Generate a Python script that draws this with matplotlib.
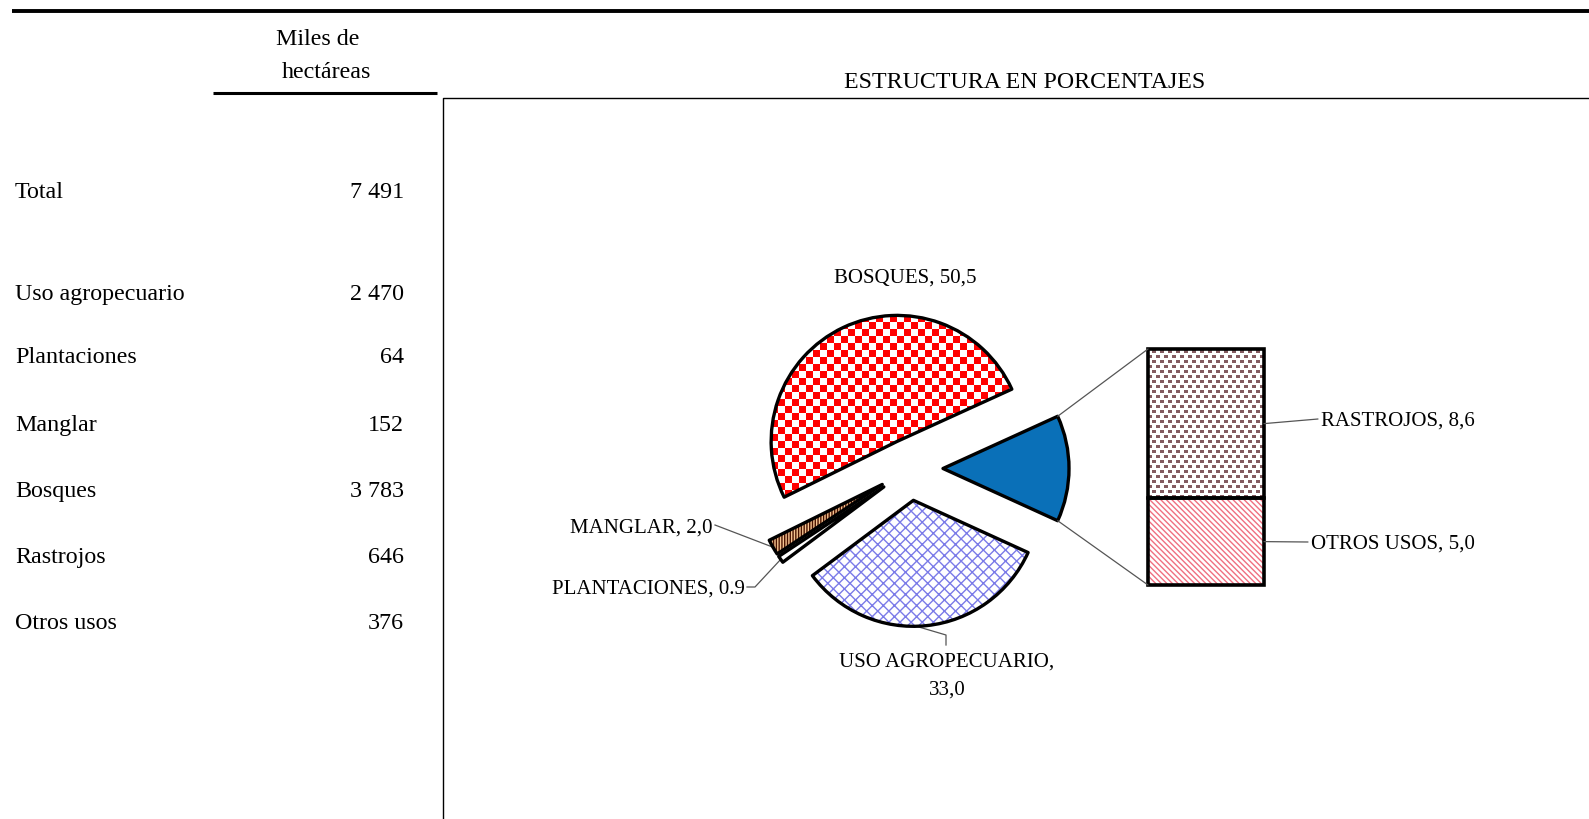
import numpy as np
import matplotlib.pyplot as plt
from matplotlib.patches import Wedge, Rectangle, ConnectionPatch

plt.rcParams['font.family'] = ['Liberation Serif', 'DejaVu Serif']
plt.rcParams['hatch.linewidth'] = 1.0

W, H = 1589, 819

# tabla de la izquierda (miles de hectareas)
categorias = ["Total", "Uso agropecuario", "Plantaciones", "Manglar",
              "Bosques", "Rastrojos", "Otros usos"]
miles_ha = [7491, 2470, 64, 152, 3783, 646, 376]

# pie principal, en orden antihorario desde la porcion "otros"
pie_nombres = ["OTROS", "BOSQUES", "MANGLAR", "PLANTACIONES", "USO AGROPECUARIO"]
pie_pct = [50.5, 2.0, 0.9, 33.0]
pie_etiquetas = ["BOSQUES, 50,5", "MANGLAR, 2,0", "PLANTACIONES, 0.9",
                 "USO AGROPECUARIO,\n33,0"]

# barra de desglose de "otros"
barra_nombres = ["OTROS USOS", "RASTROJOS"]
barra_pct = [5.0, 8.6]
barra_etiquetas = ["OTROS USOS, 5,0", "RASTROJOS, 8,6"]

pie_valores = [sum(barra_pct)] + pie_pct


def Y(y):
    # coordenadas de imagen (y hacia abajo) -> ejes
    return H - y


fig = plt.figure(figsize=(W / 100, H / 100), dpi=100)
ax = fig.add_axes([0, 0, 1, 1])

# --- encabezado y tabla ---
ax.plot([12, W], [Y(11), Y(11)], color='black', lw=2.8, solid_capstyle='butt')
ax.plot([213, 437], [Y(93), Y(93)], color='black', lw=2.2, solid_capstyle='butt')
ax.plot([443, 443, W], [0, Y(98), Y(98)], color='black', lw=1.0)

ax.text(318, Y(45), "Miles de", ha='center', va='baseline', fontsize=17.3)
ax.text(326, Y(78), "hectáreas", ha='center', va='baseline', fontsize=17.3)
ax.text(1025, Y(88), "ESTRUCTURA EN PORCENTAJES", ha='center', va='baseline', fontsize=17.2)

fila_base = [198, 300, 363, 431, 497, 563, 629]
for nombre, valor, yb in zip(categorias, miles_ha, fila_base):
    ax.text(15, Y(yb), nombre, ha='left', va='baseline', fontsize=17.3)
    ax.text(404, Y(yb), f"{valor:,}".replace(",", " "), ha='right', va='baseline', fontsize=17.3)

# --- pie ---
centro = (910, Y(468.5))
radio = 126
explotar = [33, 30, 32, 32, 32]
inicio = -360 * pie_valores[0] / 100 / 2
colores = ['#0a70b8', 'white', '#f5c592', 'white', 'white']
wedges, _ = ax.pie(pie_valores, explode=explotar, radius=radio, center=centro,
                   startangle=inicio, colors=colores,
                   wedgeprops=dict(linewidth=0, zorder=1))
w_otros, w_bosq, w_mang, w_plant, w_uso = wedges


def copia(w, **kw):
    return Wedge(w.center, w.r, w.theta1, w.theta2, **kw)


# cuadros rojos para bosques
celda = 7
x0, y0 = w_bosq.center[0] - radio, w_bosq.center[1] - radio
n = int(2 * radio / celda) + 2
ii, jj = np.mgrid[0:n, 0:n]
tablero = np.ones((n, n, 3))
tablero[(ii + jj) % 2 == 0] = [1.0, 0.0, 0.0]
img = ax.imshow(tablero, extent=(x0, x0 + celda * n, y0, y0 + celda * n), origin='lower',
                interpolation='nearest', aspect='auto', zorder=1.5)
img.set_clip_path(w_bosq)

ax.add_patch(copia(w_uso, fill=False, hatch='xxx', edgecolor='#7b7be8', lw=0, zorder=2))
ax.add_patch(copia(w_mang, fill=False, hatch='||||||', edgecolor='#4a1200', lw=0, zorder=2))
for w in wedges:
    ax.add_patch(copia(w, fill=False, edgecolor='black', lw=2.4, joinstyle='round', zorder=3))


def punto(w, ang=None, extra=0):
    if ang is None:
        ang = 0.5 * (w.theta1 + w.theta2)
    a = np.deg2rad(ang)
    return (w.center[0] + (w.r + extra) * np.cos(a), w.center[1] + (w.r + extra) * np.sin(a))


gris = '#555555'
# bosques
ax.text(834, Y(283), pie_etiquetas[0], ha='left', va='baseline', fontsize=15)
# manglar
ax.text(713, Y(533), pie_etiquetas[1], ha='right', va='baseline', fontsize=15)
px, py = punto(w_mang)
ax.plot([715, px], [Y(525), py], color=gris, lw=0.9)
# plantaciones
ax.text(745, Y(594), pie_etiquetas[2], ha='right', va='baseline', fontsize=15)
px, py = punto(w_plant)
ax.plot([747, 755, px], [Y(587), Y(587), py], color=gris, lw=0.9)
# uso agropecuario
ax.text(947, Y(653), pie_etiquetas[3], ha='center', va='top', fontsize=15,
        linespacing=1.6, multialignment='center')
px, py = punto(w_uso, ang=w_uso.theta1 + 0.46 * (w_uso.theta2 - w_uso.theta1))
ax.plot([px, 946, 946], [py, Y(635), Y(645)], color=gris, lw=0.9)

# --- barra de desglose ---
axb = fig.add_axes([1148 / W, (H - 585) / H, 116 / W, 236 / H])
axb.set_xlim(-0.5, 0.5)
axb.set_ylim(0, sum(barra_pct))
axb.axis('off')
abajo = np.concatenate([[0], np.cumsum(barra_pct)[:-1]])

b_otros = axb.bar(0, barra_pct[0], bottom=abajo[0], width=1, color='white', lw=0)[0]
axb.bar(0, barra_pct[0], bottom=abajo[0], width=1, fill=False, hatch='\\' * 6,
        edgecolor='#f06f80', lw=0)
b_rast = axb.bar(0, barra_pct[1], bottom=abajo[1], width=1, color='white', lw=0)[0]

# puntos pequenos para rastrojos
ph, pw = 150, 116
yy, xx = np.mgrid[0:ph, 0:pw]
fila = yy // 5
on = ((yy % 5) < 3) & (((xx + 4 * (fila % 2)) % 8) < 4)
textura = np.ones((ph, pw, 3))
textura[on] = [0.52, 0.36, 0.38]
img2 = axb.imshow(textura, extent=(-0.5, 0.5, abajo[1], abajo[1] + barra_pct[1]),
                  origin='lower', interpolation='nearest', aspect='auto', zorder=1.5)
img2.set_clip_path(b_rast)

for v, b in zip(barra_pct, abajo):
    axb.add_patch(Rectangle((-0.5, b), 1, v, fill=False, edgecolor='black', lw=2.6,
                            clip_on=False, zorder=3))

# lineas de conexion pie -> barra
tope = sum(barra_pct)
for ang, yb in [(w_otros.theta2, tope), (w_otros.theta1, 0)]:
    con = ConnectionPatch(xyA=punto(w_otros, ang), coordsA=ax.transData,
                          xyB=(-0.5, yb), coordsB=axb.transData,
                          color=gris, lw=0.9)
    fig.add_artist(con)

# etiquetas de la barra
medios = abajo + np.array(barra_pct) / 2
pos_txt = [(1311, 542, 1308), (1321, 419, 1318)]
for et, m, (tx, ty, lx) in zip(barra_etiquetas, medios, pos_txt):
    con = ConnectionPatch(xyA=(0.5, m), coordsA=axb.transData,
                          xyB=(lx, Y(ty)), coordsB=ax.transData, color=gris, lw=0.9)
    fig.add_artist(con)
    ax.text(tx, Y(ty + 7), et, ha='left', va='baseline', fontsize=15)

ax.set_xlim(0, W)
ax.set_ylim(0, H)
ax.set_aspect('auto')
ax.axis('off')

fig.savefig('out.png', dpi=100)
